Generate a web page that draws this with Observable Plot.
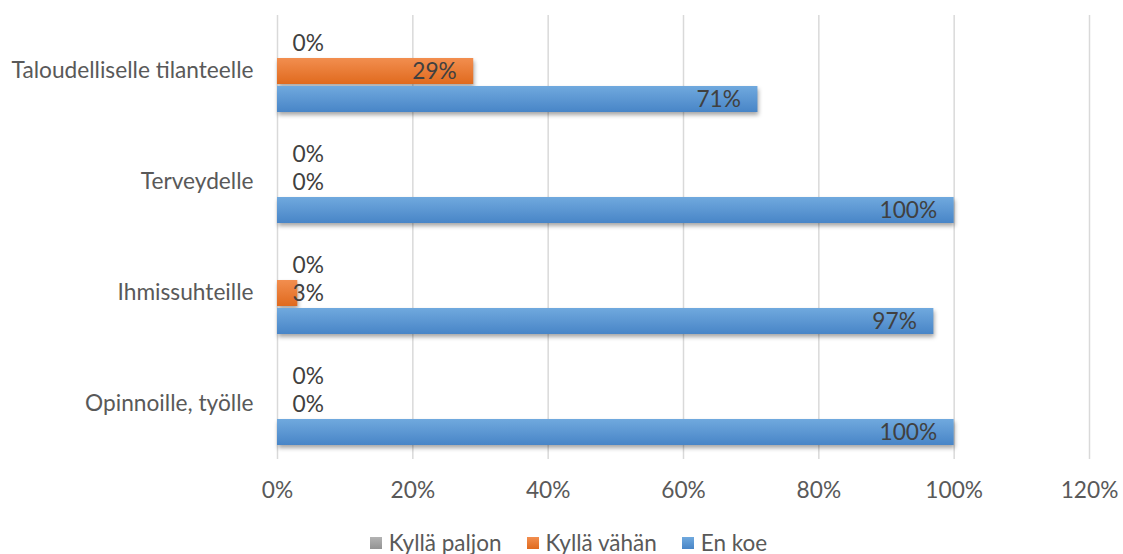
<!DOCTYPE html>
<html>
<head>
<meta charset="utf-8">
<script src="https://cdn.jsdelivr.net/npm/d3@7"></script>
<script src="https://cdn.jsdelivr.net/npm/@observablehq/plot@0.6"></script>
<style>
  html, body { margin: 0; padding: 0; background: #fff; overflow: hidden; }
  #chart { width: 1123px; }
  #chart svg { display: block; }
  #chart svg g[aria-label="bar"] rect { filter: drop-shadow(1px 3px 2px rgba(0,0,0,0.35)); }
  .legend { display: flex; justify-content: center; align-items: center; gap: 25px;
            font-family: Lato, "Open Sans", sans-serif; font-size: 22.5px; color: #595959;
            height: 22px; line-height: 22px; margin-top: 14px; padding-left: 14px; }
  .legend span.item { display: flex; align-items: center; }
  .legend i { display: inline-block; width: 12px; height: 12px; margin-right: 7px; }
</style>
</head>
<body>
<div id="chart"></div>
<script>
const categories = ["Taloudelliselle tilanteelle", "Terveydelle", "Ihmissuhteille", "Opinnoille, työlle"];
const series = ["Kyllä paljon", "Kyllä vähän", "En koe"];
const kyllaPaljon = [0, 0, 0, 0];
const kyllaVahan = [29, 0, 3, 0];
const enKoe = [71, 100, 97, 100];
const xTicks = [0, 20, 40, 60, 80, 100, 120];
const gradIds = ["gGray", "gOrange", "gBlue"];
const gradStops = [["#b3b3b3", "#939393"], ["#f28e4f", "#e06a1e"], ["#70a9de", "#4885c7"]];

const seriesValues = [kyllaPaljon, kyllaVahan, enKoe];
const rows = [];
categories.forEach((c, i) => {
  series.forEach((s, j) => rows.push({category: c, series: s, value: seriesValues[j][i]}));
});

const FS = 22.7;
const plot = Plot.plot({
  width: 1123,
  height: 518,
  marginLeft: 277,
  marginRight: 34,
  marginTop: 15,
  marginBottom: 59,
  style: {fontFamily: "Lato, 'Open Sans', sans-serif", fontSize: FS + "px", color: "#595959", background: "#fff"},
  x: {domain: [0, 120], ticks: xTicks, tickFormat: d => d + "%"},
  fy: {domain: categories, padding: 0},
  y: {domain: series, paddingInner: 0.085, paddingOuter: 0.5, axis: null},
  color: {domain: series, range: gradIds.map(id => `url(#${id})`)},
  marks: [
    Plot.gridX(xTicks, {stroke: "#d9d9d9", strokeOpacity: 1, strokeWidth: 1.5}),
    Plot.axisFy({anchor: "left", tickSize: 0, tickPadding: 24, label: null, fontSize: FS}),
    Plot.axisX(xTicks, {tickSize: 0, tickPadding: 22, label: null, fontSize: FS, tickFormat: d => d + "%"}),
    Plot.barX(rows, {x: "value", y: "series", fy: "category", fill: "series"}),
    Plot.text(rows.filter(d => d.value >= 10), {x: "value", y: "series", fy: "category",
      text: d => d.value + "%", textAnchor: "end", dx: -17, fill: "#404040", fontSize: FS}),
    Plot.text(rows.filter(d => d.value < 10), {frameAnchor: "left", y: "series", fy: "category",
      text: d => d.value + "%", textAnchor: "start", dx: 15, fill: "#404040", fontSize: FS})
  ]
});

// gradient definitions for the bar fills
const svg = d3.select(plot);
const defs = svg.insert("defs", ":first-child");
gradIds.forEach((id, k) => {
  const g = defs.append("linearGradient").attr("id", id).attr("x1", 0).attr("y1", 0).attr("x2", 0).attr("y2", 1);
  g.append("stop").attr("offset", "0%").attr("stop-color", gradStops[k][0]);
  g.append("stop").attr("offset", "100%").attr("stop-color", gradStops[k][1]);
});

const container = document.getElementById("chart");
container.appendChild(plot);

const legend = document.createElement("div");
legend.className = "legend";
series.forEach((s, k) => {
  const item = document.createElement("span");
  item.className = "item";
  const sw = document.createElement("i");
  sw.style.background = `linear-gradient(${gradStops[k][0]}, ${gradStops[k][1]})`;
  item.appendChild(sw);
  item.appendChild(document.createTextNode(s));
  legend.appendChild(item);
});
container.appendChild(legend);
</script>
</body>
</html>
